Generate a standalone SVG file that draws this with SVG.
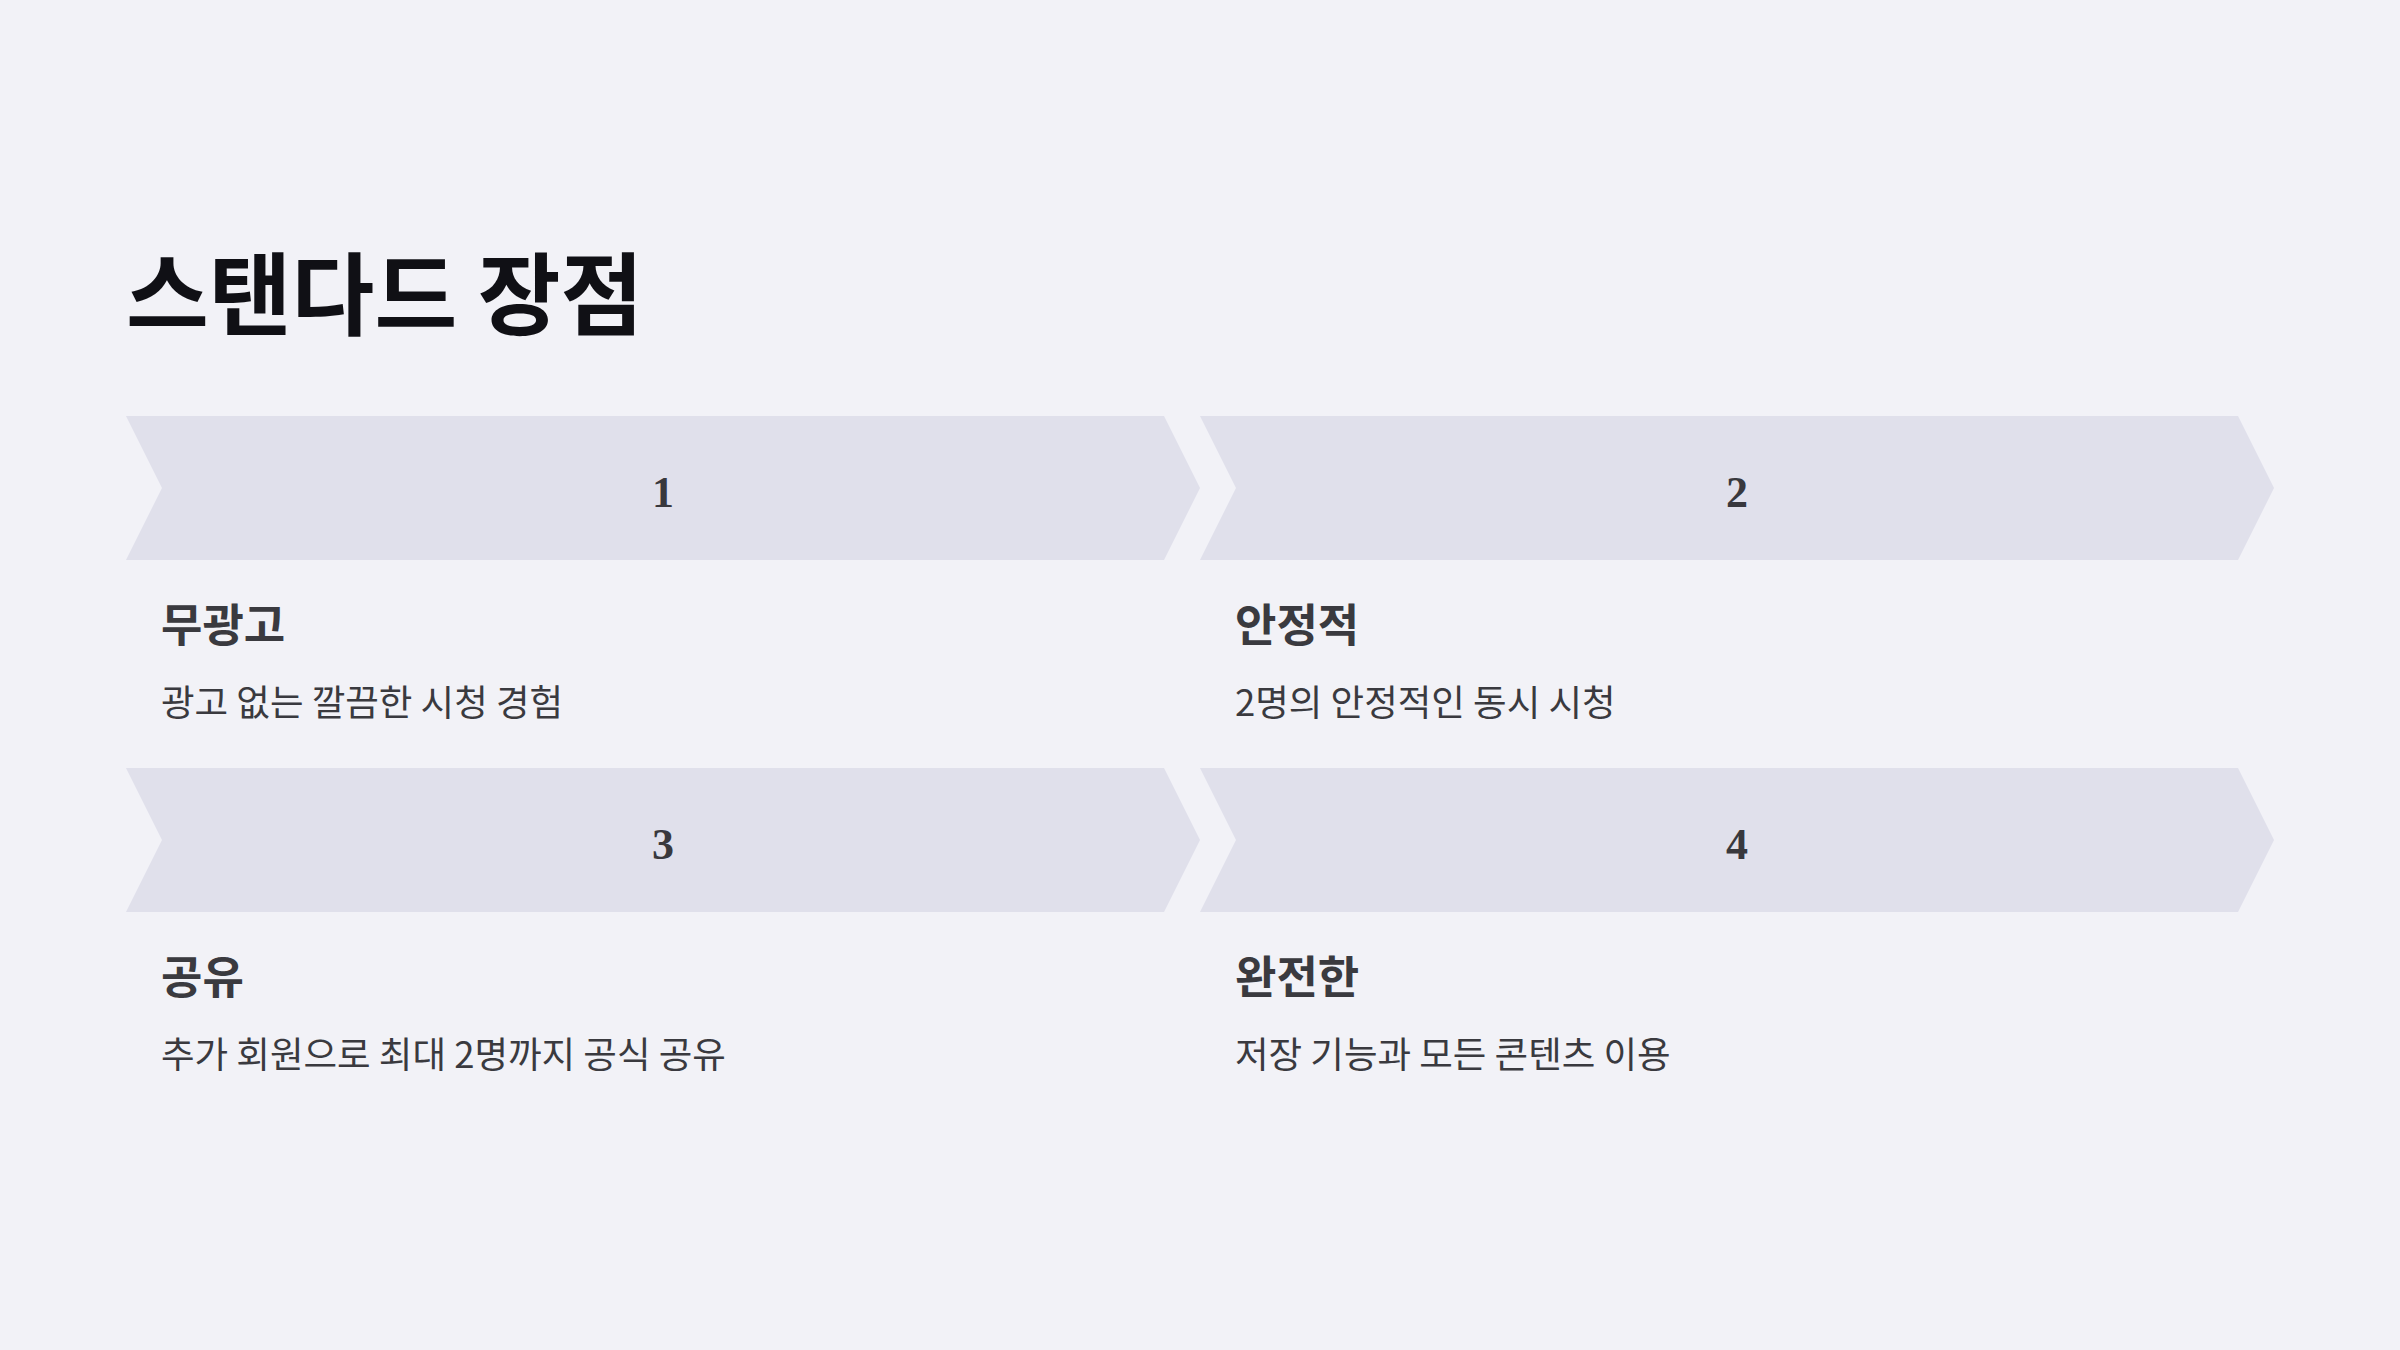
<svg xmlns="http://www.w3.org/2000/svg" width="2400" height="1350" viewBox="0 0 2400 1350">
  <style>
    .title { font-family: "Noto Sans CJK KR", "Noto Sans", sans-serif; font-weight: 700; font-size: 90px; fill: #101015; }
    .chev { fill: #e0e0eb; }
    .num { font-family: "Liberation Serif", "DejaVu Serif", serif; font-weight: 700; font-size: 44px; fill: #38383d; text-anchor: middle; }
    .head { font-family: "Noto Sans CJK KR", "Noto Sans", sans-serif; font-weight: 700; font-size: 45px; fill: #3a3a3f; }
    .desc { font-family: "Noto Sans CJK KR", "Noto Sans", sans-serif; font-weight: 400; font-size: 36.5px; fill: #3a3a3f; }
  </style>
  <rect width="2400" height="1350" fill="#f2f2f7"/>
  <text class="title" x="126" y="328">스탠다드 장점</text>
  <g id="connectors"/>
  <g id="step1">
    <polygon class="chev" points="126,416 1164,416 1200,488 1164,560 126,560 162,488"/>
    <text class="num" x="663" y="507">1</text>
    <text class="head" x="161" y="642">무광고</text>
    <text class="desc" x="161" y="716">광고 없는 깔끔한 시청 경험</text>
  </g>
  <g id="step2">
    <polygon class="chev" points="1200,416 2238,416 2274,488 2238,560 1200,560 1236,488"/>
    <text class="num" x="1737" y="507">2</text>
    <text class="head" x="1235" y="642">안정적</text>
    <text class="desc" x="1235" y="716">2명의 안정적인 동시 시청</text>
  </g>
  <g id="step3">
    <polygon class="chev" points="126,768 1164,768 1200,840 1164,912 126,912 162,840"/>
    <text class="num" x="663" y="859">3</text>
    <text class="head" x="161" y="994">공유</text>
    <text class="desc" x="161" y="1068">추가 회원으로 최대 2명까지 공식 공유</text>
  </g>
  <g id="step4">
    <polygon class="chev" points="1200,768 2238,768 2274,840 2238,912 1200,912 1236,840"/>
    <text class="num" x="1737" y="859">4</text>
    <text class="head" x="1235" y="994">완전한</text>
    <text class="desc" x="1235" y="1068">저장 기능과 모든 콘텐츠 이용</text>
  </g>
</svg>
